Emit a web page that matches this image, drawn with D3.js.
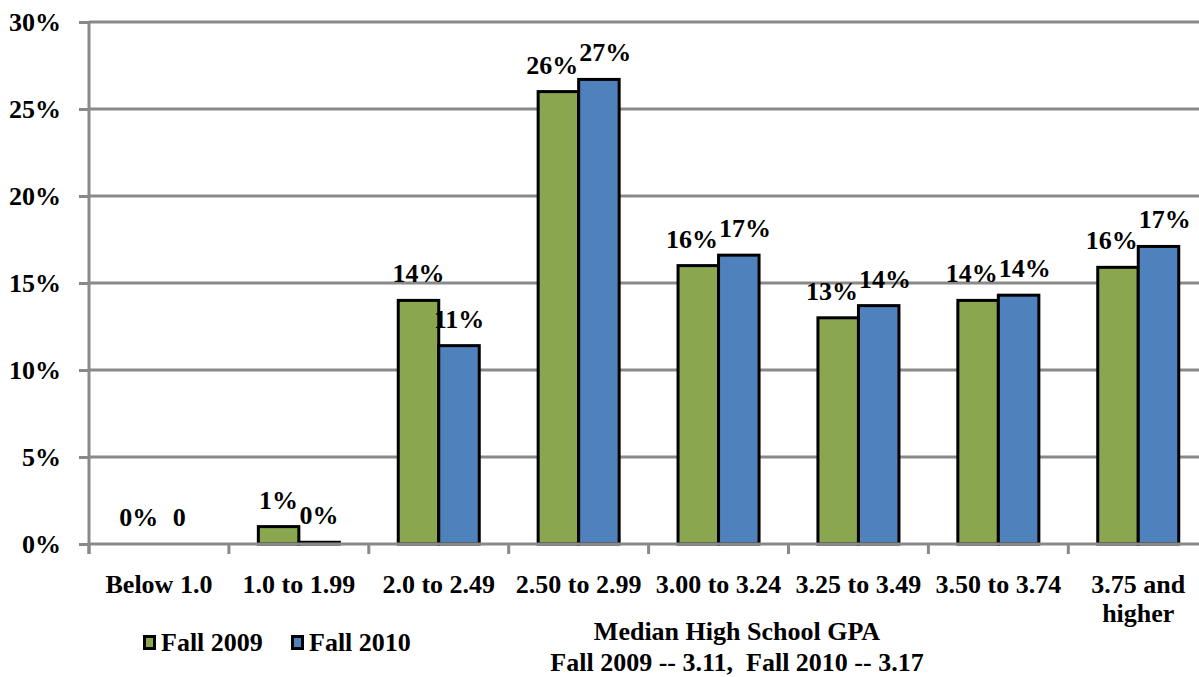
<!DOCTYPE html>
<html>
<head>
<meta charset="utf-8">
<script src="https://cdn.jsdelivr.net/npm/d3@7"></script>
<style>
  html, body { margin: 0; padding: 0; background: #fff; }
  svg { display: block; }
  svg text { font-family: "Liberation Serif", "Times New Roman", serif !important; font-weight: bold; fill: #000; }
</style>
</head>
<body>
<svg id="chart" width="1199" height="677" font-family="Liberation Serif" font-weight="bold"></svg>
<script>
// ---- data ----
const categories = ["Below 1.0", "1.0 to 1.99", "2.0 to 2.49", "2.50 to 2.99", "3.00 to 3.24", "3.25 to 3.49", "3.50 to 3.74", "3.75 and\nhigher"];
const seriesNames = ["Fall 2009", "Fall 2010"];
const fall2009 = [0, 1.0, 14.0, 26.0, 16.0, 13.0, 14.0, 15.9];
const fall2010 = [0, 0.1, 11.4, 26.7, 16.6, 13.7, 14.3, 17.1];
const labels2009 = ["0%", "1%", "14%", "26%", "16%", "13%", "14%", "16%"];
const labels2010 = ["0", "0%", "11%", "27%", "17%", "14%", "14%", "17%"];
const yTicks = [0, 5, 10, 15, 20, 25, 30];
const colors = ["#8AA64F", "#4F81BD"];
const titleLines = ["Median High School GPA", "Fall 2009 -- 3.11,\u00A0 Fall 2010 -- 3.17"];

// ---- layout ----
const FONT = "Liberation Serif";
const svg = d3.select("#chart");
const plotLeft = 89, plotTop = 22, plotBottom = 544;
const step = 139.9;
const plotRight = plotLeft + step * categories.length;

const x0 = d3.scaleBand().domain(categories).range([plotLeft, plotRight]).paddingInner(0).paddingOuter(0);
const x1 = d3.scaleBand().domain(seriesNames).range([0, x0.bandwidth()]).paddingInner(0).paddingOuter(0.727);
const y = d3.scaleLinear().domain([0, 30]).range([plotBottom, plotTop]);

const gridColor = "#898989";

// y axis ticks + labels
const yAxis = d3.axisLeft(y).tickValues(yTicks).tickFormat(d => d + "%").tickSize(10).tickPadding(18);
const gy = svg.append("g").attr("transform", `translate(${plotLeft},0)`).call(yAxis)
  .attr("font-family", FONT).attr("font-size", 26);
gy.select(".domain").remove();
gy.selectAll(".tick line").attr("stroke", gridColor).attr("stroke-width", 3);
gy.selectAll(".tick text").attr("font-family", FONT).attr("font-weight", "bold").attr("fill", "#000").attr("dy", "0.34em");

// gridlines
svg.append("g").selectAll("line").data(yTicks.filter(d => d > 0)).join("line")
  .attr("x1", plotLeft).attr("x2", 1199)
  .attr("y1", d => y(d)).attr("y2", d => y(d))
  .attr("stroke", gridColor).attr("stroke-width", 3);

// bars
const groups = svg.append("g").selectAll("g").data(categories).join("g")
  .attr("transform", d => `translate(${x0(d)},0)`);

const rows = categories.map((c, i) => [
  { s: seriesNames[0], v: fall2009[i], label: labels2009[i], color: colors[0] },
  { s: seriesNames[1], v: fall2010[i], label: labels2010[i], color: colors[1] }
]);

groups.selectAll("rect").data((d, i) => rows[i].filter(r => r.v > 0)).join("rect")
  .attr("x", r => x1(r.s))
  .attr("width", x1.bandwidth())
  .attr("y", r => y(r.v))
  .attr("height", r => y(0) - y(r.v))
  .attr("fill", r => r.color)
  .attr("stroke", "#000").attr("stroke-width", 3);

groups.each(function(d, i) {
  const g = d3.select(this);
  const texts = g.selectAll("text.lbl").data(rows[i]).join("text")
    .attr("class", "lbl")
    .attr("x", r => x1(r.s) + x1.bandwidth() / 2)
    .attr("y", r => y(r.v) - 18)
    .attr("text-anchor", "middle")
    .attr("font-family", FONT)
    .attr("font-size", 26)
    .text(r => r.label);
  // resolve overlap between the two labels of a group by pushing them apart horizontally
  const nodes = texts.nodes();
  const a = nodes[0].getBBox(), b = nodes[1].getBBox();
  const vOverlap = a.y < b.y + b.height && b.y < a.y + a.height;
  const hOverlap = a.x + a.width - b.x;
  if (vOverlap && hOverlap > -1) {
    const shift = (hOverlap + 1) / 2;
    d3.select(nodes[0]).attr("x", +nodes[0].getAttribute("x") - shift);
    d3.select(nodes[1]).attr("x", +nodes[1].getAttribute("x") + shift);
  }
});

// x axis
svg.append("line").attr("x1", plotLeft).attr("x2", 1199).attr("y1", plotBottom).attr("y2", plotBottom)
  .attr("stroke", gridColor).attr("stroke-width", 3);
svg.append("line").attr("x1", plotLeft).attr("x2", plotLeft).attr("y1", plotTop).attr("y2", plotBottom + 10)
  .attr("stroke", gridColor).attr("stroke-width", 3);
const boundaries = categories.map(c => x0(c)).concat([plotRight]).filter(v => v < 1199);
svg.append("g").selectAll("line").data(boundaries).join("line")
  .attr("x1", d => d).attr("x2", d => d).attr("y1", plotBottom).attr("y2", plotBottom + 10)
  .attr("stroke", gridColor).attr("stroke-width", 3);

// category labels
svg.append("g").selectAll("text").data(categories).join("text")
  .attr("text-anchor", "middle")
  .attr("font-family", FONT)
  .attr("font-size", 26)
  .attr("x", d => x0(d) + x0.bandwidth() / 2)
  .attr("y", 593)
  .each(function(d) {
    const lines = d.split("\n");
    const cx = x0(d) + x0.bandwidth() / 2;
    d3.select(this).selectAll("tspan").data(lines).join("tspan")
      .attr("x", cx)
      .attr("dy", (l, i) => i === 0 ? 0 : 29)
      .text(l => l);
  });

// legend
const legend = svg.append("g");
const legendX = [143, 291];
seriesNames.forEach((s, i) => {
  legend.append("rect").attr("x", legendX[i] + 1.5).attr("y", 636.5).attr("width", 10).attr("height", 12)
    .attr("fill", colors[i]).attr("stroke", "#000").attr("stroke-width", 3);
  legend.append("text").attr("x", legendX[i] + 18).attr("y", 651)
    .attr("font-family", FONT).attr("font-size", 26).text(s);
});

// axis title
svg.append("g").selectAll("text").data(titleLines).join("text")
  .attr("x", 737).attr("y", (d, i) => 640 + i * 31)
  .attr("text-anchor", "middle").attr("font-family", FONT).attr("font-size", 26)
  .text(d => d);
</script>
</body>
</html>
